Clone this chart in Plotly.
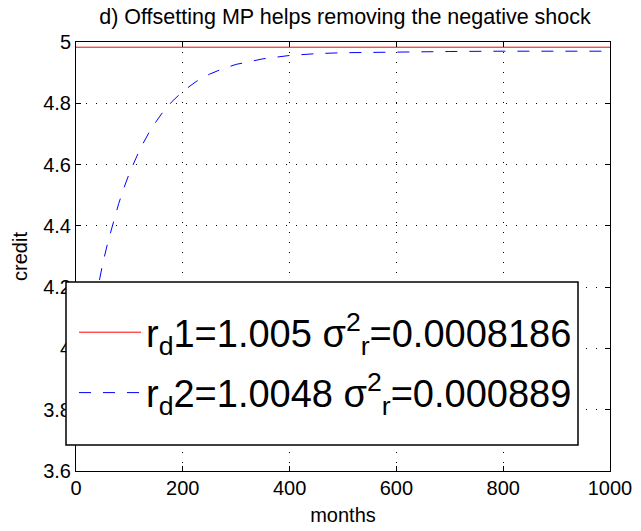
import plotly.graph_objects as go

# ---- data ----
red_months = [0, 1000]
red_values = [4.983, 4.983]

blue_months = [0, 10, 20, 30, 40, 50, 60, 70, 80, 90, 100, 120, 140, 160, 180,
               200, 225, 250, 275, 300, 350, 400, 450, 500, 600, 700, 800, 900, 1000]
blue_values = [3.76, 3.887, 4.001, 4.103, 4.194, 4.276, 4.349, 4.414, 4.473, 4.525,
               4.572, 4.651, 4.715, 4.765, 4.806, 4.839, 4.871, 4.895, 4.913, 4.927,
               4.945, 4.956, 4.962, 4.965, 4.968, 4.969, 4.970, 4.970, 4.970]

x_ticks = [0, 200, 400, 600, 800, 1000]
y_ticks = [3.6, 3.8, 4.0, 4.2, 4.4, 4.6, 4.8, 5.0]
y_tick_text = ["3.6", "3.8", "4", "4.2", "4.4", "4.6", "4.8", "5"]

name1 = "r<sub>d</sub>1=1.005 σ<sup>2</sup><sub>r</sub>=0.0008186"
name2 = "r<sub>d</sub>2=1.0048 σ<sup>2</sup><sub>r</sub>=0.000889"

FONT = "Liberation Sans, Arial, Helvetica, sans-serif"

fig = go.Figure()
fig.add_trace(go.Scatter(x=red_months, y=red_values, mode="lines", name=name1,
                         legendgroup="a",
                         line=dict(color="#ff0000", width=1)))
fig.add_trace(go.Scatter(x=blue_months, y=blue_values, mode="lines", name=name2,
                         legendgroup="b",
                         line=dict(color="#0000ff", width=1, dash="12px,12px")))

L, R, T, B = 76, 31, 42, 60
W, H = 641, 531
pw, ph = W - L - R, H - T - B

def px(xp):
    return (xp - L) / pw

def py(yp):
    return (H - B - yp) / ph

axis_common = dict(showline=True, linecolor="black", linewidth=1, mirror="ticks",
                   ticks="inside", ticklen=5, tickcolor="black", showgrid=True,
                   gridcolor="black", gridwidth=1, griddash="1px,9px", zeroline=False,
                   automargin=False,
                   tickfont=dict(family=FONT, size=20, color="black"))

fig.update_xaxes(range=[0, 1000], tickvals=x_ticks, ticktext=[str(v) for v in x_ticks],
                 ticklabelstandoff=-1,
                 title=dict(text="months", font=dict(family=FONT, size=20, color="black"),
                            standoff=9),
                 **axis_common)
fig.update_yaxes(range=[3.6, 5.0], tickvals=y_ticks, ticktext=y_tick_text,
                 title=dict(text="credit", font=dict(family=FONT, size=20, color="black"),
                            standoff=10),
                 **axis_common)

# legend box
fig.add_shape(type="rect", xref="paper", yref="paper",
              x0=px(66), x1=px(578), y0=py(445), y1=py(282),
              fillcolor="white", line=dict(color="black", width=1.5), layer="above")

fig.update_layout(
    width=W, height=H,
    margin=dict(l=L, r=R, t=T, b=B, autoexpand=False),
    paper_bgcolor="white", plot_bgcolor="white",
    title=dict(text="d) Offsetting MP helps removing the negative shock",
               x=px(345), xanchor="center", xref="paper",
               y=1 - 16 / H, yanchor="middle",
               font=dict(family=FONT, size=21.5, color="black")),
    showlegend=True,
    legend=dict(x=px(74), y=py(301), xanchor="left", yanchor="top",
                bgcolor="rgba(0,0,0,0)", borderwidth=0,
                font=dict(family=FONT, size=38, color="black"),
                itemwidth=62, tracegroupgap=8),
)

fig.write_html("out.html",
               config={"displayModeBar": False},
               post_script="document.body.style.margin='0';document.body.style.overflow='hidden';")
